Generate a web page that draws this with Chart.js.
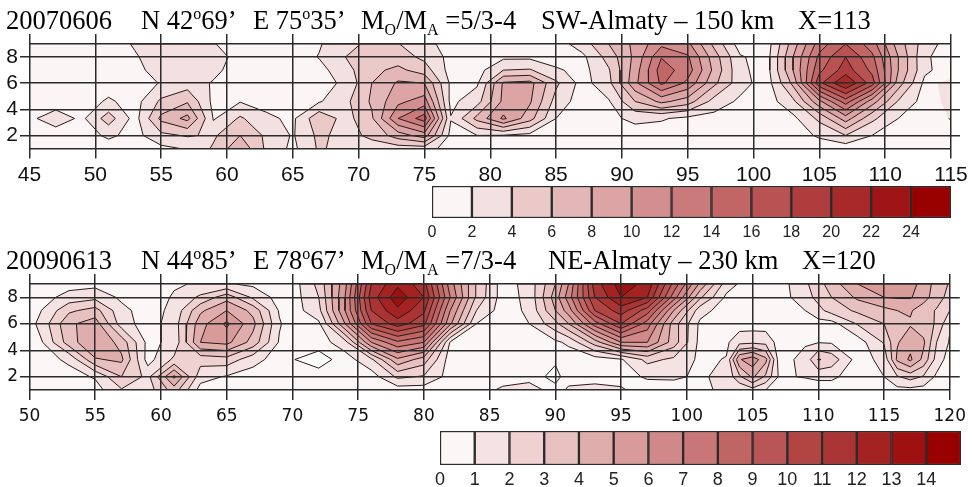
<!DOCTYPE html>
<html><head><meta charset="utf-8">
<script src="https://cdn.jsdelivr.net/npm/chart.js@4"></script>
<style>
html,body{margin:0;padding:0;background:#fff;width:972px;height:487px;overflow:hidden}
canvas{position:absolute;left:0}
.t{position:absolute;font:26.5px "Liberation Serif",serif;color:#000;white-space:nowrap;line-height:30px}
.t sup,.t sub{font-size:16px;line-height:0}
</style></head><body>
<canvas id="c1" width="972" height="185" style="top:0;width:972px;height:185px"></canvas>
<canvas id="b1" width="972" height="65" style="top:180px;width:972px;height:65px"></canvas>
<canvas id="c2" width="972" height="185" style="top:240px;width:972px;height:185px"></canvas>
<canvas id="b2" width="972" height="67" style="top:420px;width:972px;height:67px"></canvas>
<div class="t" style="left:6px;top:5px">20070606</div>
<div class="t" style="left:141px;top:5px">N 42<sup>o</sup>69’</div>
<div class="t" style="left:253px;top:5px">E 75<sup>o</sup>35’</div>
<div class="t" style="left:361px;top:5px">M<sub>O</sub>/M<sub>A</sub> =5/3-4</div>
<div class="t" style="left:541px;top:5px">SW-Almaty – 150 km</div>
<div class="t" style="left:798px;top:5px">X=113</div>
<div class="t" style="left:6px;top:245px">20090613</div>
<div class="t" style="left:141px;top:245px">N 44<sup>o</sup>85’</div>
<div class="t" style="left:253px;top:245px">E 78<sup>o</sup>67’</div>
<div class="t" style="left:361px;top:245px">M<sub>O</sub>/M<sub>A</sub> =7/3-4</div>
<div class="t" style="left:548px;top:245px">NE-Almaty – 230 km</div>
<div class="t" style="left:802px;top:245px">X=120</div>
<script>
// grid rows (y positions), shared by both panels
const rowY = [1, 2, 3.3, 4.6, 6, 7, 8, 9];

// Panel 1 columns and rows of values
const x1 = [45,47,49,51,53,55,57,59,61,63,65,67,69,71,73,75,77,79,81,83,85,87,89,91,93,95,97,99,101,103,105,107,109,111,113,115];
const p1y9 = [1,1,1,1,2.2,3,3,2.1,1,1,1,1.8,3.6,4.3,4.1,2.4,1.5,1,1,1,1,3,6,8.5,11.5,10.5,5.5,1,1,7,13,16,13,7,3,1];
const p1y8 = [1,1,1,1,1.8,3,3,2.6,1.5,1,1,2.1,4,5.2,5,3.5,1.4,1,1.6,1.6,1,1.5,4.8,8.5,13.9,12.3,7,2.2,1.2,8,14.5,18,14.5,8,2.3,1];
const p1y7 = [1,1,1,1,1.6,2.6,3,2.5,1,1,1,1.3,3.3,5.5,6.5,5,1.2,1.2,4,4.2,2.3,1.3,3.8,9,15,13,7.5,2.4,1.2,8,15.5,19,15.5,8,2.4,1];
const p1y6 = [1,1,1,1,1.3,2.1,3,1.8,1.2,1,1,1.2,2.4,6,8.3,8,1.6,1.7,8.3,8.7,4.4,1.2,3.4,9.5,14.4,11.5,6.5,2.8,1,6.5,17.5,22,17,7,1.5,2.5];
const p1y5 = [1,1,1,2.3,1.2,4.4,5.8,1.4,1.9,1.3,1,1.8,3.5,6.3,9.5,11,1.5,3.2,8.5,8.3,3.2,1,1.8,6,8.5,7,3.2,1.6,1,3.5,9.5,15,9,3.8,1.2,2.5];
const p1y3 = [1.6,3,1.6,5,1.2,6.5,8.6,1.8,4.3,2.4,1.6,5.5,3.2,5.7,12,15,2.1,6.6,10.4,6.8,2,1,1.5,2.5,2.2,1.5,1.3,1,1,1.5,4.5,9,4.5,2,1,2.1];
const p1y2 = [1,1,1,2.4,1.3,3.5,4.2,3.7,6,3.6,1.8,4.5,3.2,4.5,7,9,1.4,2,1.9,1.4,1,1,1,1,1,1,1,1,1,1,2.3,4,2,1.1,1,1];
const p1y1 = [1,1,1,1,1,1.5,2.2,4.3,7.5,3.6,1.5,4.3,3.2,3,3,3,1,1,1,1,1,1,1,1,1,1,1,1,1,1,0.9,0.8,0.9,1,1,1];

// Panel 2 columns and rows of values
const x2 = [50,51,53,55,57,59,61,63,65,67,69,70,72,74,76,78,80,82,84,86,88,90,91,93,95,97,99,101,103,104,105,106,107,109,110,111,113,115,116,117,118,119,120];
const p2y9 = [.5,.5,.6,.7,.5,.5,.9,1.1,1.1,.8,.5,.5,2.3,5.7,11,12.8,11.4,6.5,2.9,.5,1.4,4,6,11.5,13.5,12.7,8.7,4.8,1.5,.9,.5,.5,.5,1.8,2.6,3.5,5,5.8,5.7,5.4,4.6,3.6,2.9];
const p2y8 = [.5,.6,1.4,1.7,.8,.5,1.1,2.2,3.6,1.8,.6,.5,2,6,11.5,13.6,12,7,2.8,.5,1.3,4.5,6.5,11,13,12,7.5,3.2,.8,.6,.5,.5,.5,1.6,2.3,3,4.2,5,5.1,5.1,4.4,3.5,2.6];
const p2y7 = [.5,1.05,2.8,3.4,1.3,.5,1.3,3.8,5,3.7,.9,.5,1.7,6,11,12.8,11.2,6,2,.5,1.2,4,5.5,10,11.5,9.5,5,1.4,.5,.5,.5,.5,.5,1,1.7,2.4,3.2,3.7,4,4.1,3.5,2.9,2];
const p2y6 = [.6,1.45,3.8,4.5,1.5,.5,1.5,4.6,6.2,4.3,1.1,.5,.8,5,10,11.5,10.3,5.2,1,.5,1,2.7,4,7.5,10,7.5,3.5,.8,.5,.5,.5,.5,.5,.6,.6,.6,2.1,3,3.4,3.9,3.4,2.9,1.1];
const p2y5 = [.5,1,3.5,5,3.6,.7,1.3,5,5.3,3.6,.9,.5,.5,1.6,6,7.8,7,.9,.5,.5,.5,.8,1.2,3.5,6,6,3.5,.7,.8,1.7,1.8,1.7,.6,.9,.95,.9,.5,2.1,3.9,4.6,4.2,2,.9];
const p2y3 = [.5,.6,1.2,3.9,4.2,.6,2.2,2.4,2.6,1.4,.5,.05,-.5,.5,1.8,4.8,3.5,.5,.5,.5,.5,.1,.4,.5,.9,2.3,1.8,.8,1.05,4.9,5.6,4.3,.6,1.3,3.1,2.6,.55,1.3,4.2,5.2,3.7,1.6,.5];
const p2y2 = [.5,.5,.6,1.1,3,1.7,5.2,1.4,.9,.5,.5,.5,.5,.5,.5,2.2,1.9,.6,.5,.5,.3,-.2,.3,.3,.7,1.1,1.1,.9,1.2,2.8,4.2,2.8,.9,1.05,1.2,1.2,.5,1,1.9,2.4,1.9,.8,.5];
const p2y1 = [.5,.5,.5,.6,1.9,1.5,3.5,.6,.5,.5,.5,.5,.5,.5,.5,.5,.5,.5,.5,1.2,1.9,.2,1.3,1.6,1.1,.6,.7,.9,1.1,1.1,1.6,1,.6,.5,.5,.5,.5,.5,.7,.7,.6,.5,.5];

// Colour scales
const levels1 = [0,2,4,6,8,10,12,14,16,18,20,22,24];
const colors1 = ['#fbf5f5','#f3e0e0','#ecc9c9','#e3b7b7','#dca4a4','#d38f8f','#ca7a7a','#c26565','#b95252','#b03d3d','#a82929','#9f1414','#990000'];
const levels2 = [0,1,2,3,4,5,6,7,8,9,10,11,12,13,14];
const colors2 = ['#fbf7f7','#f5e3e3','#efd1d1','#e7c0c0','#e0adad','#d99a9a','#d08888','#c87676','#c06464','#ba5555','#b24444','#aa3333','#a52222','#9f1111','#990000'];

const rows1 = [p1y1,p1y2,p1y3,p1y5,p1y6,p1y7,p1y8,p1y9];
const rows2 = [p2y1,p2y2,p2y3,p2y5,p2y6,p2y7,p2y8,p2y9];

// Marching squares: closed rings of {z >= L}, with the high side on the left.
function contourRings(xs, ys, rows, L) {
  const e = 1e-3, low = -1000;
  const X = [xs[0]-e, ...xs, xs[xs.length-1]+e];
  const Y = [ys[0]-e, ...ys, ys[ys.length-1]+e];
  const G = Y.map((_, j) => X.map((_, i) =>
    (j===0||j===Y.length-1||i===0||i===X.length-1) ? low : rows[j-1][i-1]));
  const pos = {};
  const hEdge = (i,j) => { const k='h'+i+','+j;
    if(!pos[k]){const a=G[j][i],b=G[j][i+1],t=(L-a)/(b-a);pos[k]={x:X[i]+t*(X[i+1]-X[i]),y:Y[j]};} return k; };
  const vEdge = (i,j) => { const k='v'+i+','+j;
    if(!pos[k]){const a=G[j][i],b=G[j+1][i],t=(L-a)/(b-a);pos[k]={x:X[i],y:Y[j]+t*(Y[j+1]-Y[j])};} return k; };
  const next = {};
  for (let j=0;j<Y.length-1;j++) for (let i=0;i<X.length-1;i++) {
    const c=[G[j][i],G[j][i+1],G[j+1][i+1],G[j+1][i]];
    const hi=c.map(v=>v>=L);
    const edges=[()=>hEdge(i,j),()=>vEdge(i+1,j),()=>hEdge(i,j+1),()=>vEdge(i,j)];
    const crossings=[0,1,2,3].filter(k=>hi[k]!==hi[(k+1)%4]);
    if(!crossings.length) continue;
    if(crossings.length===2){
      const s=crossings.find(k=>hi[k]), f=crossings.find(k=>!hi[k]);
      next[edges[s]()]=edges[f]();
    } else {
      const centreHigh=(c[0]+c[1]+c[2]+c[3])/4>=L;
      [0,1,2,3].filter(k=>hi[k]).forEach(s=>{
        const f=centreHigh?(s+1)%4:(s+3)%4;
        next[edges[s]()]=edges[f]();
      });
    }
  }
  const rings=[], seen={};
  Object.keys(next).forEach(k0=>{
    if(seen[k0]) return;
    const pts=[]; let k=k0;
    while(k&&!seen[k]){seen[k]=1;pts.push(pos[k]);k=next[k];}
    pts.push(pts[0]);
    let a=0; for(let n=0;n<pts.length-1;n++) a+=pts[n].x*pts[n+1].y-pts[n+1].x*pts[n].y;
    rings.push({pts,area:a/2});
  });
  return rings;
}

function contourDatasets(xs, ys, rows, levels, colors) {
  const all=[];
  levels.forEach((L,n)=>{
    contourRings(xs,ys,rows,L).forEach(r=>{
      const fill=r.area>0?colors[n]:(n>0?colors[n-1]:'#ffffff');
      all.push({abs:Math.abs(r.area),pts:r.pts,fill});
    });
  });
  all.sort((a,b)=>a.abs-b.abs);               // first dataset is painted last
  return all.map(r=>({
    data:r.pts, showLine:true, fill:'shape', backgroundColor:r.fill,
    borderColor:'#2a1a1a', borderWidth:1, pointRadius:0, tension:0, parsing:false, normalized:true
  }));
}

const GRID='#2b2b2b';
function panel(id, xs, rows, levels, colors, xMin, xMax, box, tickFont, xPad) {
  const yTicks=[1,2,4,6,8,9];
  const setY=s=>{s.ticks=yTicks.map(v=>({value:v}));};
  const tickCol=c=>(c.tick&&(c.tick.value===1||c.tick.value===9))?'rgba(0,0,0,0)':GRID;
  new Chart(document.getElementById(id),{
    type:'scatter',
    data:{datasets:contourDatasets(xs,rowY,rows,levels,colors)},
    options:{
      responsive:false,animation:false,events:[],
      plugins:{legend:{display:false},tooltip:{enabled:false},title:{display:false}},
      layout:{padding:0},
      scales:{
        x:{type:'linear',position:'bottom',min:xMin,max:xMax,
          afterFit:s=>{s.height=box.h-box.bottom;},
          grid:{color:GRID,tickColor:GRID,lineWidth:1.5,tickLength:10,z:1},border:{display:false},
          ticks:{stepSize:5,color:'#111',font:tickFont,padding:xPad,autoSkip:false,maxRotation:0}},
        xt:{type:'linear',position:'top',min:xMin,max:xMax,
          afterFit:s=>{s.height=box.top;},
          grid:{color:GRID,tickColor:GRID,lineWidth:1.5,tickLength:10,drawOnChartArea:false},border:{display:false},
          ticks:{stepSize:5,display:false}},
        y:{type:'linear',position:'left',min:1,max:9,
          afterBuildTicks:setY,afterFit:s=>{s.width=box.left;},
          grid:{color:GRID,tickColor:tickCol,lineWidth:1.5,tickLength:9.5,z:1},border:{display:false},
          ticks:{color:'#111',font:tickFont,padding:2,autoSkip:false,
            callback:v=>(v===1||v===9)?'':String(v)}},
        yr:{type:'linear',position:'right',min:1,max:9,
          afterBuildTicks:setY,afterFit:s=>{s.width=972-box.right;},
          grid:{color:GRID,tickColor:tickCol,lineWidth:1.5,tickLength:box.rightTick,drawOnChartArea:false},border:{display:false},
          ticks:{display:false}}
      }
    }
  });
}
function colorBar(id, levels, colors, step, box, font) {
  const top=levels[levels.length-1]+step;
  new Chart(document.getElementById(id),{
    type:'bar',
    data:{labels:['scale'],datasets:levels.map((L,i)=>({
      data:[[L,L+step]],backgroundColor:colors[i],borderColor:'#2b2b2b',borderWidth:1.5,borderSkipped:false,
      grouped:false,barPercentage:1,categoryPercentage:1}))},
    options:{
      indexAxis:'y',responsive:false,animation:false,events:[],
      plugins:{legend:{display:false},tooltip:{enabled:false}},
      layout:{padding:{left:box.left,right:972-box.right,top:box.top}},
      scales:{
        x:{type:'linear',min:0,max:top,
          afterFit:s=>{s.height=box.h-box.bottom;},
          grid:{display:false,drawTicks:false},border:{display:false},
          ticks:{stepSize:step,color:'#222',font,padding:box.pad,autoSkip:false,maxRotation:0,
            callback:v=>v===top?'':String(v)}},
        y:{display:false}
      }
    }
  });
}
panel('c1',x1,rows1,levels1,colors1,45,115,{left:29.5,right:951,top:44,bottom:148.5,h:185,rightTick:9},{family:'"Liberation Sans",Arial',size:21},4);
panel('c2',x2,rows2,levels2,colors2,50,120,{left:29.5,right:954,top:44,bottom:150,h:185,rightTick:10},{family:'"DejaVu Sans",sans-serif',size:17},6);
colorBar('b1',levels1,colors1,2,{left:432,right:951,top:6,bottom:38,h:65,pad:5},{family:'"Liberation Sans",Arial',size:16});
colorBar('b2',levels2,colors2,1,{left:440,right:961,top:11,bottom:45,h:67,pad:4},{family:'"Liberation Sans",Arial',size:18});
</script>
</body></html>
